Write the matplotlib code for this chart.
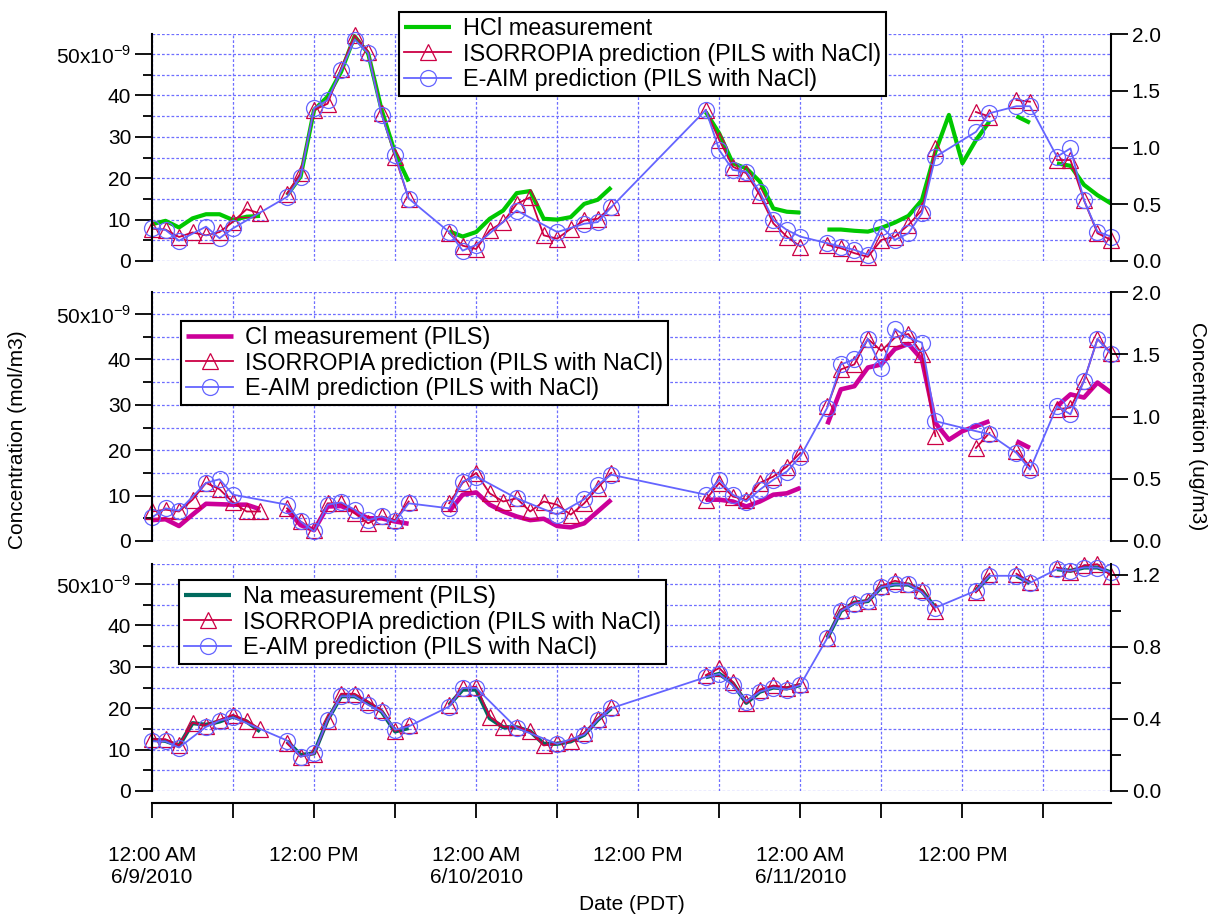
import numpy as np
import matplotlib
matplotlib.use('Agg')
import matplotlib.pyplot as plt
from matplotlib.ticker import MultipleLocator, FixedLocator, FuncFormatter

plt.rcParams['font.family'] = ['Liberation Sans', 'DejaVu Sans']
plt.rcParams['mathtext.fontset'] = 'custom'
plt.rcParams['mathtext.rm'] = 'Liberation Sans'

# hourly data, hour 0 = 12:00 AM 6/9/2010 (PDT); None = no data
hours = np.arange(72)

hcl_meas = [
    8.9, 9.7, 8.1, 10.3, 11.3, 11.3, 9.9, 10.7, 10.9, None,
    15.9, 20.4, 36.5, 39.7, 45.7, 54.3, 50.2, 36.5, 26.0, 19.2,
    None, None, 7.2, 5.9, 7.0, 10.2, 12.2, 16.4, 16.9, 10.2,
    10.0, 10.6, 13.8, 14.8, 17.8, None, None, None, None, None,
    None, 36.0, 30.8, 23.6, 22.4, 19.2, 12.7, 11.9, 11.7, None,
    7.6, 7.6, 7.3, 7.1, 8.0, 9.3, 10.9, 14.7, 26.4, 35.3,
    23.6, 29.2, 33.7, None, 35.0, 33.4, None, 23.6, 23.0, 18.4,
    15.9, 13.9]
hcl_isor = [
    7.8, 7.6, 5.8, 6.9, 6.2, 7.0, 9.5, 12.5, 11.5, None,
    16.3, 21.2, 36.5, 38.0, 46.5, 54.5, 50.6, 35.7, 25.2, 15.1,
    None, None, 6.7, 3.7, 2.9, 7.4, 9.4, 13.8, 15.4, 6.2,
    5.4, 7.8, 9.8, 10.2, 13.0, None, None, None, None, None,
    None, 36.5, 29.2, 22.8, 21.2, 15.9, 9.1, 5.9, 3.5, None,
    3.9, 3.1, 1.9, 1.0, 5.1, 5.9, 8.7, 12.3, 27.2, None,
    None, 36.0, 34.9, None, 38.9, 38.5, None, 24.4, 24.4, 14.7,
    6.7, 5.1]
hcl_eaim = [
    8.0, 7.5, 4.9, None, 8.3, 5.5, 7.9, None, None, None,
    15.5, 20.4, 36.9, 38.9, 46.1, 53.5, 50.2, 35.3, 25.6, 15.1,
    None, None, 7.0, 2.5, 3.9, None, None, 12.2, None, None,
    7.0, None, 9.0, 9.4, 13.0, None, None, None, None, None,
    None, 36.5, 26.8, 22.0, 21.6, 16.7, 9.9, 7.5, 5.9, None,
    4.3, 3.5, 2.7, 1.5, 8.3, 5.1, 6.7, 11.5, 25.2, None,
    None, 31.2, 35.7, None, 37.4, 37.4, None, 25.2, 27.2, 14.7,
    7.1, 5.9]

cl_meas = [
    4.6, 4.8, 3.3, 5.8, 8.2, 8.1, 8.0, 8.0, 7.0, None,
    6.9, 3.5, 2.4, 7.6, 7.7, 6.5, 5.0, 5.0, 4.3, 3.8,
    None, None, 6.5, 10.2, 10.7, 8.0, 6.5, 5.4, 4.6, 4.9,
    3.3, 3.0, 3.9, 6.5, 9.1, None, None, None, None, None,
    None, 9.1, 9.1, 8.7, 7.6, 8.7, 10.2, 10.5, 11.7, None,
    25.7, 33.4, 34.1, 38.2, 38.9, 42.3, 43.4, 40.0, 26.0, 22.3,
    24.2, 25.3, 26.4, None, 22.0, 20.5, None, 29.7, 32.3, 31.6,
    34.9, 32.7]
cl_isor = [
    6.5, 6.9, 6.5, 9.1, 12.8, 11.4, 8.5, 6.5, 6.5, None,
    7.2, 4.3, 2.4, 8.3, 8.3, 6.1, 3.9, 5.4, 4.6, 8.7,
    None, None, 8.3, 12.8, 15.0, 10.5, 8.7, 9.4, 6.5, 8.7,
    8.0, 5.8, 8.3, 11.7, 15.0, None, None, None, None, None,
    None, 9.1, 12.8, 9.8, 9.1, 12.8, 14.2, 16.4, 19.4, None,
    29.7, 37.8, 38.9, 44.5, 41.9, 44.8, 45.6, 41.2, 23.1, None,
    None, 20.5, 23.8, None, 19.8, 16.4, None, 29.0, 29.4, 35.3,
    44.5, 41.5]
cl_eaim = [
    5.2, 7.2, 6.7, None, 12.8, 13.6, 10.2, None, None, None,
    8.0, 4.3, 2.1, 8.0, 8.5, 6.9, 4.6, 5.4, 4.3, 8.3,
    None, None, 7.2, 13.1, 14.2, None, None, 9.4, None, None,
    5.8, None, 9.2, 12.4, 14.6, None, None, None, None, None,
    None, 10.2, 13.5, 10.2, 8.7, 11.3, 13.5, 15.3, 18.6, None,
    29.4, 38.9, 40.0, 44.5, 38.2, 46.7, 44.8, 43.7, 26.4, None,
    None, 24.2, 23.5, None, 19.4, 15.7, None, 29.7, 27.9, 35.3,
    44.5, 41.2]

na_meas = [
    12.4, 12.1, 10.9, 16.4, 16.0, 16.8, 18.0, 16.8, 14.4, None,
    12.0, 8.7, 9.1, 17.2, 22.9, 22.9, 21.3, 19.2, 14.4, 15.2,
    None, None, 20.8, 24.5, 24.5, 17.6, 15.4, 15.4, 14.4, 11.4,
    11.4, 12.0, 13.6, 17.2, 20.0, None, None, None, None, None,
    None, 27.5, 28.3, 26.0, 21.3, 24.0, 25.0, 24.8, 25.6, None,
    37.0, 43.5, 45.5, 45.9, 49.3, 49.9, 49.9, 48.3, 44.3, None,
    None, 48.4, 52.0, None, 52.0, 50.3, None, 53.6, 53.2, 54.0,
    54.0, 52.8]
na_isor = [
    12.5, 12.5, 11.0, 16.5, 15.8, 17.2, 18.4, 17.0, 15.0, None,
    11.5, 8.3, 9.0, 17.0, 23.5, 23.5, 21.6, 19.5, 14.5, 16.0,
    None, None, 20.8, 24.8, 25.2, 18.0, 15.5, 15.5, 14.5, 11.0,
    11.5, 12.0, 14.0, 17.5, 20.3, None, None, None, None, None,
    None, 28.0, 29.7, 26.3, 21.3, 24.5, 25.5, 25.0, 25.8, None,
    37.0, 43.8, 45.5, 46.0, 49.5, 50.8, 50.0, 48.5, 43.5, None,
    None, 48.0, 52.5, None, 52.5, 50.5, None, 54.0, 53.0, 54.5,
    54.8, 52.0]
na_eaim = [
    12.0, 12.0, 10.5, None, 15.5, 17.0, 17.8, None, None, None,
    12.2, 8.3, 9.1, 17.2, 22.9, 22.9, 20.8, 19.2, 14.8, 15.6,
    None, None, 20.4, 24.9, 24.9, None, None, 15.2, None, None,
    11.4, None, 13.6, 17.2, 20.0, None, None, None, None, None,
    None, 27.5, 28.3, 25.5, 21.6, 24.0, 25.0, 24.5, 25.6, None,
    37.0, 43.5, 45.3, 45.9, 49.3, 49.9, 49.9, 48.0, 44.3, None,
    None, 48.4, 52.0, None, 52.0, 50.3, None, 53.6, 53.2, 54.0,
    54.0, 52.8]

x_ticks = np.arange(0, 67, 6)
x_labels = ['12:00 AM\n6/9/2010', '', '12:00 PM', '', '12:00 AM\n6/10/2010', '',
            '12:00 PM', '', '12:00 AM\n6/11/2010', '', '12:00 PM', '']

ymax = 54.85          # 2.0 ug/m3 of HCl in nmol/m3
mw_na = 22.99

grid_kw = dict(color='#6e6eff', linestyle=(0, (2.2, 1.6)), linewidth=0.9)
col_isor = '#cc0044'
col_eaim = '#6464ff'
fs_tick = 15
fs_leg = 16.9


def left_fmt(v, pos):
    if abs(v - 50) < 1e-6:
        return r'50x10$^{\mathregular{-9}}$'
    return '%d' % v


fig = plt.figure(figsize=(12.15, 9.14), dpi=100)


def panel(rect, meas, isor, eaim, labels, mcol, mlw, right_top, right_major,
          right_minor, leg_xy, bottom=False):
    ax = fig.add_axes(rect)
    ax.set_xlim(0, 71)
    ax.set_ylim(0, ymax)
    for s in ['top', 'right', 'bottom']:
        ax.spines[s].set_visible(False)
    ax.spines['left'].set_linewidth(1.5)

    ax.yaxis.set_major_locator(MultipleLocator(10))
    ax.yaxis.set_minor_locator(MultipleLocator(5))
    ax.yaxis.set_major_formatter(FuncFormatter(left_fmt))
    ax.tick_params(axis='y', which='major', direction='out', length=12, width=1.3,
                   labelsize=fs_tick, pad=3)
    ax.tick_params(axis='y', which='minor', direction='out', length=6.5, width=1.3)

    ax.xaxis.set_major_locator(FixedLocator(x_ticks))
    ax.grid(True, axis='x', which='major', **grid_kw)
    ax.grid(True, axis='y', which='both', **grid_kw)
    ax.axhline(ymax, **grid_kw)
    ax.set_axisbelow(True)

    if bottom:
        ax.spines['bottom'].set_visible(True)
        ax.spines['bottom'].set_position(('outward', 8.5))
        ax.spines['bottom'].set_linewidth(1.5)
        ax.set_xticklabels(x_labels)
        ax.tick_params(axis='x', direction='out', length=11, width=1.3,
                       labelsize=fs_tick, pad=20)
    else:
        ax.tick_params(axis='x', bottom=False, labelbottom=False)

    m = np.array(meas, dtype=float)
    p = np.array(isor, dtype=float)
    e = np.array(eaim, dtype=float)
    ok = ~np.isnan(e)
    l1, = ax.plot(hours, m, color=mcol, lw=mlw, solid_capstyle='butt', label=labels[0])
    l2, = ax.plot(hours, p, color=col_isor, lw=1.3, marker='^', ms=12,
                  mfc='none', mec=col_isor, mew=0.9, clip_on=False, label=labels[1])
    l3, = ax.plot(hours[ok], e[ok], color=col_eaim, lw=1.3, marker='o', ms=11.5,
                  mfc='none', mec=col_eaim, mew=0.9, clip_on=False, label=labels[2])

    leg = ax.legend(handles=[l1, l2, l3], loc='upper left', bbox_to_anchor=leg_xy,
                    bbox_transform=fig.transFigure, fontsize=fs_leg, frameon=True,
                    fancybox=False, framealpha=1, edgecolor='black', borderpad=0.22,
                    labelspacing=0.1, handlelength=2.0, handletextpad=0.5,
                    borderaxespad=0, numpoints=1)
    leg.get_frame().set_linewidth(1.5)

    ax2 = ax.twinx()
    ax2.set_ylim(0, right_top)
    for s in ['top', 'left', 'bottom']:
        ax2.spines[s].set_visible(False)
    ax2.spines['right'].set_linewidth(1.5)
    ax2.yaxis.set_major_locator(MultipleLocator(right_major))
    if right_minor:
        ax2.yaxis.set_minor_locator(MultipleLocator(right_minor))
    ax2.yaxis.set_major_formatter(FuncFormatter(lambda v, pos: '%.1f' % v))
    ax2.tick_params(axis='y', which='major', direction='out', length=12, width=1.3,
                    labelsize=fs_tick, pad=3)
    ax2.tick_params(axis='y', which='minor', direction='out', length=7, width=1.3)
    return ax


W, H = 1215.0, 914.0
x0, x1 = 152 / W, 1111 / W

panel([x0, 1 - 261 / H, x1 - x0, (261 - 34) / H], hcl_meas, hcl_isor, hcl_eaim,
      ['HCl measurement', 'ISORROPIA prediction (PILS with NaCl)',
       'E-AIM prediction (PILS with NaCl)'],
      '#00c800', 3.0, 2.0, 0.5, None, (399 / W, 1 - 12 / H))

panel([x0, 1 - 541 / H, x1 - x0, (541 - 292) / H], cl_meas, cl_isor, cl_eaim,
      ['Cl measurement (PILS)', 'ISORROPIA prediction (PILS with NaCl)',
       'E-AIM prediction (PILS with NaCl)'],
      '#cc0099', 3.3, 2.0, 0.5, None, (181 / W, 1 - 321 / H))

panel([x0, 1 - 791 / H, x1 - x0, (791 - 564) / H], na_meas, na_isor, na_eaim,
      ['Na measurement (PILS)', 'ISORROPIA prediction (PILS with NaCl)',
       'E-AIM prediction (PILS with NaCl)'],
      '#006a5e', 3.0, ymax * mw_na / 1000, 0.4, 0.2, (179 / W, 1 - 580 / H),
      bottom=True)

fig.text(18 / W, 1 - 440 / H, 'Concentration (mol/m3)', rotation=90,
         ha='center', va='center', fontsize=fs_tick)
fig.text(1198 / W, 1 - 426 / H, 'Concentration (ug/m3)', rotation=270,
         ha='center', va='center', fontsize=fs_tick)
fig.text(632 / W, 1 - 904 / H, 'Date (PDT)', ha='center', va='center', fontsize=fs_tick)

fig.savefig('out.png', dpi=100)
